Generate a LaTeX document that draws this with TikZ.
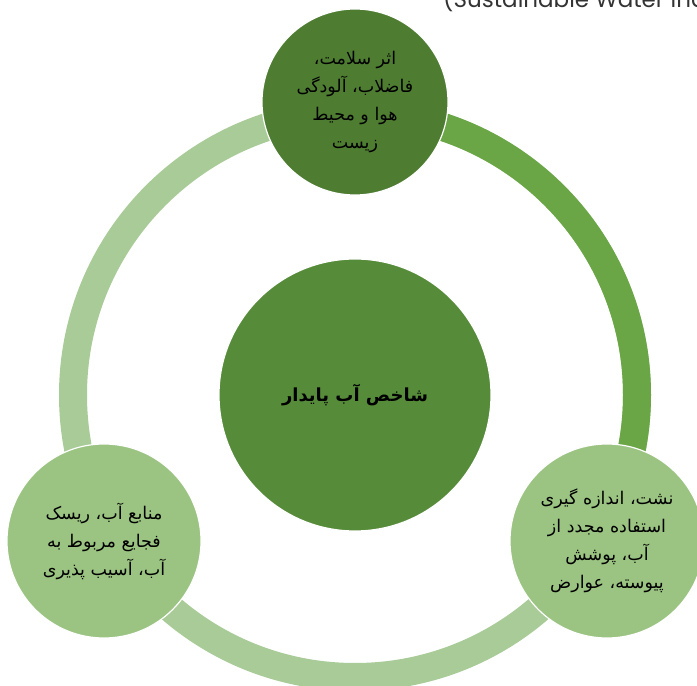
\documentclass[tikz,border=0pt]{standalone}
\usepackage{fontspec}
\TeXXeTstate=1
\newfontfamily\arabicfont[Script=Arabic]{DejaVu Sans}
\newfontfamily\latinfont{Poppins}
\newcommand{\rl}[1]{\beginR #1\endR}
\definecolor{topc}{HTML}{4E7D32}
\definecolor{cenc}{HTML}{568B39}
\definecolor{arcdark}{HTML}{6AA645}
\definecolor{arclight}{HTML}{A8CB97}
\definecolor{lowc}{HTML}{9BC482}
\begin{document}
\begin{tikzpicture}[x=1pt,y=1pt,
  bubble/.style={circle, draw=white, line width=1.2pt, inner sep=0pt, align=center,
    font=\arabicfont\fontsize{17.5}{28}\selectfont, text=black},
  ringarc/.style={line width=28pt}]
\useasboundingbox (0,0) rectangle (697,686);
\clip (0,0) rectangle (697,686);
\coordinate (O) at (355,291);
% ring
\draw[ringarc, arclight] (O) circle[radius=282];
\draw[ringarc, arcdark] ([shift={(90:282)}]O) arc[start angle=90, end angle=-30, radius=282];
% circles
\node[bubble, fill=cenc, minimum size=272pt, font=\arabicfont\bfseries\fontsize{18}{24}\selectfont] (center) at (O) {\rl{شاخص آب پایدار}};
\node[bubble, fill=topc, minimum size=186pt] (top) at (355,584)
  {\rl{اثر سلامت،}\\\rl{فاضلاب، آلودگی}\\\rl{هوا و محیط}\\\rl{زیست}};
\node[bubble, fill=lowc, minimum size=194pt] (left) at (104,145)
  {\rl{منابع آب، ریسک}\\\rl{فجایع مربوط به}\\\rl{آب، آسیب پذیری}};
\node[bubble, fill=lowc, minimum size=194pt] (right) at (607,145)
  {\rl{نشت، اندازه گیری}\\\rl{استفاده مجدد از}\\\rl{آب، پوشش}\\\rl{پیوسته، عوارض}};
% clipped caption at top
\node[anchor=base west, inner sep=0pt, text=black!80, font=\latinfont\fontsize{23}{26}\selectfont] (cap) at (443,678) {(Sustainable Water Index)};
\end{tikzpicture}
\end{document}
